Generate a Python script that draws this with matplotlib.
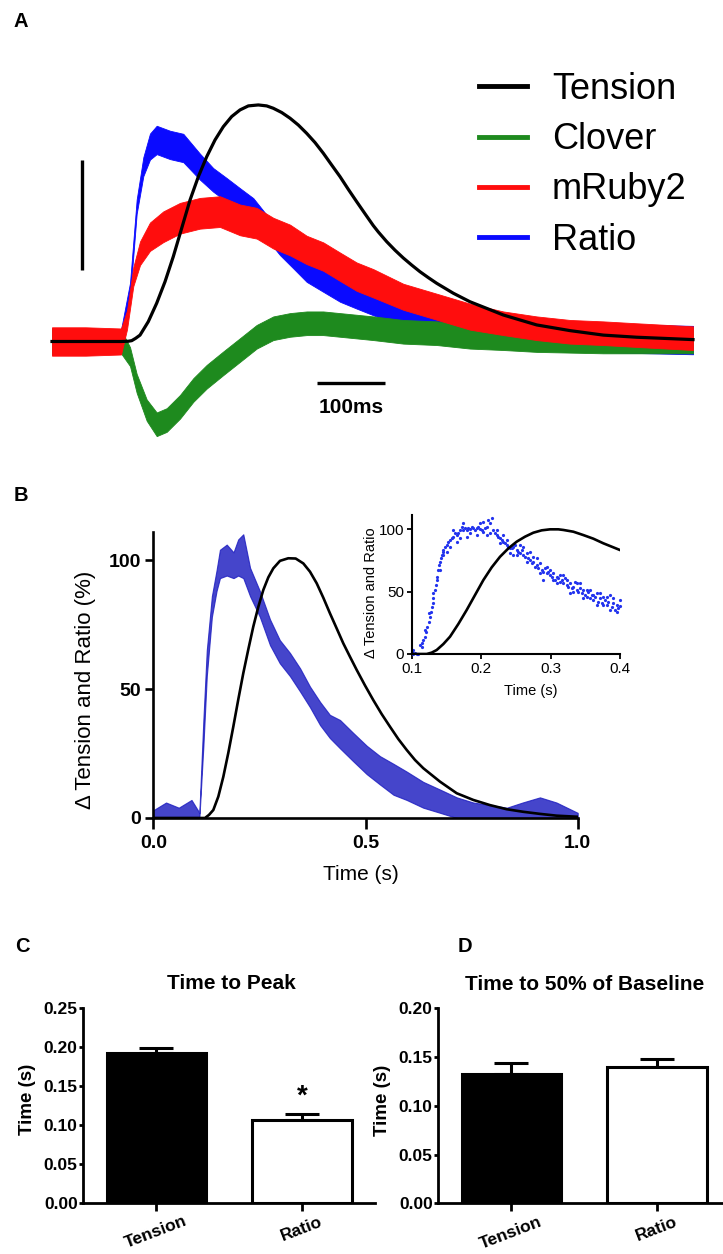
import matplotlib
matplotlib.use('Agg')
import matplotlib.pyplot as plt
from matplotlib.lines import Line2D

plt.rcParams['font.family'] = ['Liberation Sans', 'DejaVu Sans']

# ---------------- Panel A data (time in ms, signal normalised to tension peak = 100) -------------
tension_a_t = [0, 50, 102.7, 113.5, 118.6, 124.5, 131.0, 143.3, 155.8, 168.2, 180.5, 193.0, 205.4,
               217.8, 230.2, 242.6, 254.9, 267.4, 279.8, 292.2, 307.0, 319.4, 329.3, 341.8, 354.2,
               366.6, 379.0, 391.4, 403.7, 416.2, 428.6, 441.0, 453.4, 465.8, 478.1, 485.6, 498.1,
               510.4, 522.8, 535.3, 547.6, 560.0, 572.5, 597.2, 622.0, 646.9, 671.6, 696.4, 721.3,
               770.8, 820.4, 870.1, 953.9]
tension_a_v = [0, 0, 0, 0.1, 0.35, 1.35, 2.7, 8.4, 16.2, 25.3, 35.9, 47.9, 59.8,
               69.7, 78.1, 85.2, 90.8, 95.1, 97.9, 99.6, 100.0, 99.6, 98.6, 96.8, 94.4,
               91.5, 88.0, 84.1, 79.6, 74.6, 69.7, 64.3, 59.1, 54.0, 49.0, 46.3, 42.2,
               38.6, 35.3, 32.3, 29.5, 27.0, 24.6, 20.4, 16.8, 14.0, 11.2, 9.1, 7.0,
               4.6, 2.7, 1.8, 0.8]

ratio_a_t = [0, 50, 102.7, 116.1, 126.0, 135.9, 145.8, 155.8, 175.6, 195.4, 220.2, 240.0, 260.0,
             279.8, 299.6, 319.5, 339.3, 359.1, 379.0, 403.7, 428.6, 453.4, 478.1, 522.8, 572.5,
             622.0, 696.4, 815.5, 953.9]
ratio_a_v = [0, 0, 0, 21.8, 57.0, 73.9, 82.4, 85.2, 83.1, 81.8, 73.9, 68.3, 64.1,
             59.8, 55.6, 48.5, 41.5, 35.9, 30.2, 26.0, 21.8, 18.9, 16.1, 11.2, 7.0,
             4.9, 2.7, 1.5, 0.6]
ratio_a_noise = [5.5, 5.5, 5, 3, 3, 4, 5.5, 6, 6, 6, 5.5, 5, 5,
                 5, 5, 5, 5, 5, 5, 5, 5, 5, 5, 5, 5.5,
                 5.5, 6, 6, 6]

ruby_a_t = [0, 50, 102.7, 111.6, 121.0, 131.0, 145.8, 165.6, 190.5, 220.2, 250.0, 279.8, 304.6,
            329.3, 354.2, 379.0, 403.7, 428.6, 453.4, 478.1, 522.8, 572.5, 622.0, 671.6, 721.3,
            770.8, 820.4, 870.1, 953.9]
ruby_a_v = [0, 0, 0, 9.1, 27.4, 37.3, 44.3, 48.5, 52.1, 54.2, 54.9, 51.4, 50.0,
            45.8, 42.9, 38.7, 35.9, 31.6, 27.4, 24.6, 18.9, 14.7, 10.5, 7.7, 5.6,
            4.1, 3.5, 2.7, 1.4]
ruby_a_noise = [6, 6, 5.5, 4, 4, 5, 6, 6.5, 6.5, 6.5, 6.5, 6.5, 6.5,
                6.5, 6.5, 6, 6, 6, 6, 6, 5.5, 5.5, 5.5, 5, 5,
                5, 5, 5, 5]

clover_a_t = [0, 50, 102.7, 116.1, 126.0, 140.9, 155.8, 170.7, 190.5, 210.3, 230.2, 254.9, 279.8,
              304.6, 329.3, 354.2, 379.0, 403.7, 428.6, 453.4, 478.1, 522.8, 572.5, 622.0, 671.6,
              721.3, 820.4, 953.9]
clover_a_v = [0, 0, 0, -6.4, -17.7, -29.0, -35.0, -33.2, -27.6, -20.5, -14.9, -9.2, -3.6,
              2.0, 5.6, 7.0, 7.7, 7.7, 7.0, 6.3, 5.6, 4.1, 3.5, 2.0, 1.4,
              0.6, 0.0, 0.0]
clover_a_noise = [5.5, 5.5, 5, 4, 4, 4.5, 5, 5, 5, 5, 5, 5, 5,
                  5, 5, 5, 5, 5, 5, 5, 5, 5, 5, 5, 5,
                  5, 5, 5]

legend_labels = ['Tension', 'Clover', 'mRuby2', 'Ratio']
scale_bar_ms = 100

# ---------------- Panel B data (time in s, % change) ----------------
tension_b_t = [0.0, 0.1218, 0.1312, 0.1414, 0.1532, 0.165, 0.1768, 0.1885, 0.2003, 0.212, 0.2239,
               0.2356, 0.2475, 0.2592, 0.271, 0.2828, 0.2985, 0.318, 0.3355, 0.3535, 0.3692,
               0.385, 0.4006, 0.4164, 0.4321, 0.4477, 0.4635, 0.4793, 0.4988, 0.5184, 0.5381,
               0.5577, 0.5774, 0.597, 0.6166, 0.6362, 0.6755, 0.7149, 0.754, 0.7933, 0.8327,
               0.872, 0.911, 0.9505, 0.9976]
tension_b_v = [0, 0, 1.2, 3.1, 8.3, 16.0, 25.3, 35.4, 46.0, 56.1, 65.4,
               74.2, 81.9, 88.4, 93.3, 96.8, 99.7, 100.7, 100.6, 98.7, 95.5,
               91.0, 85.4, 79.3, 73.5, 67.7, 62.5, 57.4, 51.4, 45.7, 40.3,
               35.4, 30.6, 26.4, 22.5, 19.3, 14.1, 9.6, 7.0, 5.0, 3.4,
               2.4, 1.6, 0.9, 0.5]

ratio_b_t = [0.0, 0.03, 0.06, 0.09, 0.105, 0.1085, 0.118, 0.126, 0.138, 0.149, 0.157, 0.173,
             0.189, 0.200, 0.212, 0.228, 0.251, 0.275, 0.298, 0.322, 0.346, 0.369, 0.393,
             0.416, 0.440, 0.471, 0.503, 0.534, 0.566, 0.597, 0.636, 0.676, 0.715, 0.754,
             0.833, 0.870, 0.911, 0.950, 1.0]
ratio_b_lo = [0, 0, 0, 0, 0, 0, 28, 55, 78, 88, 93, 94, 93, 94, 93, 86, 78, 67, 60, 55, 49, 43,
              36, 31, 27, 22, 17, 13, 9, 7, 4, 2, 0, 0, 0, 0, 0, 0, 0]
ratio_b_hi = [3, 6, 4, 7, 3, 2, 38, 65, 86, 96, 104, 106, 103, 108, 110, 97, 88, 77, 69, 64, 58,
              51, 45, 40, 38, 33, 28, 24, 21, 18, 14, 11, 8, 6, 4, 6, 8, 6, 2]

# Inset (time in s)
tension_in_t = [0.1, 0.1216, 0.1288, 0.136, 0.1456, 0.1552, 0.1672, 0.1792, 0.1912, 0.2032,
                0.2152, 0.2272, 0.2392, 0.2512, 0.2632, 0.2752, 0.2872, 0.2992, 0.3112, 0.3184,
                0.3328, 0.3472, 0.3616, 0.376, 0.388, 0.4]
tension_in_v = [0, 0, 1.1, 3.2, 8.0, 13.9, 24.1, 35.3, 47.3, 59.3,
                69.5, 78.0, 84.7, 90.1, 94.1, 97.3, 99.2, 100.0, 100.0, 99.5,
                98.1, 95.4, 92.5, 88.8, 86.1, 83.4]

ratio_in_t = [0.100, 0.1014, 0.1024, 0.1048, 0.1072, 0.1096, 0.112, 0.1144, 0.1168, 0.1192, 0.1206,
              0.1226, 0.1245, 0.1264, 0.1278, 0.1288, 0.1302, 0.1312, 0.1336, 0.135, 0.136, 0.137,
              0.1384, 0.1398, 0.1408, 0.1418, 0.1432, 0.1446, 0.1456, 0.148, 0.1504, 0.1528, 0.1552,
              0.1576, 0.16, 0.1624, 0.1648, 0.1672, 0.1696, 0.172, 0.1744, 0.1768, 0.1792, 0.1816,
              0.184, 0.1864, 0.1888, 0.1912, 0.1936, 0.196, 0.1984, 0.2008, 0.2032, 0.2056, 0.208,
              0.2104, 0.2128, 0.2152, 0.2176, 0.22, 0.2224, 0.2248, 0.2272, 0.2296, 0.232, 0.2344,
              0.2368, 0.2392, 0.2416, 0.244, 0.2464, 0.2488, 0.2512, 0.2536, 0.256, 0.2584, 0.2608,
              0.2632, 0.2656, 0.268, 0.2704, 0.2728, 0.2752, 0.2776, 0.28, 0.2824, 0.2848, 0.2872,
              0.2896, 0.292, 0.2944, 0.2968, 0.2992, 0.3016, 0.304, 0.3064, 0.3088, 0.3112, 0.3136,
              0.316, 0.3184, 0.3208, 0.3232, 0.3256, 0.328, 0.3304, 0.3328, 0.3352, 0.3376, 0.34,
              0.3424, 0.3448, 0.3472, 0.3496, 0.352, 0.3544, 0.3568, 0.3592, 0.3616, 0.364, 0.3664,
              0.3688, 0.3712, 0.3736, 0.376, 0.3784, 0.3808, 0.3832, 0.3856, 0.388, 0.3904, 0.3928,
              0.3952, 0.3976, 0.400,
              0.1552, 0.1648, 0.1792, 0.1936, 0.2128, 0.2272, 0.2416, 0.2608, 0.28, 0.2992, 0.3184,
              0.3376, 0.3568, 0.376, 0.3952, 0.400, 0.1744, 0.2032, 0.232, 0.2512, 0.2704, 0.2896,
              0.3088, 0.328, 0.3472, 0.3664, 0.3856, 0.1408, 0.1456, 0.1504, 0.1312, 0.1254, 0.1197,
              0.1144, 0.16, 0.1696, 0.184, 0.1984, 0.208, 0.2224, 0.2368, 0.2464, 0.256, 0.2656,
              0.2752, 0.2848, 0.2944, 0.304, 0.3136, 0.3232, 0.3328, 0.3424, 0.352, 0.3616, 0.3712,
              0.3808, 0.3904]
ratio_in_v = [1.9, 0.0, 3.2, 0.5, 0.0, 0.0, 7.2, 8.6, 11.2, 13.9, 17.9,
              21.9, 25.9, 29.9, 33.9, 38.0, 40.6, 48.7, 51.3, 55.3, 59.3, 62.0,
              67.4, 71.4, 74.0, 76.7, 79.4, 82.1, 83.4, 86.1, 87.4, 90.1, 91.4,
              92.8, 94.1, 96.8, 95.4, 96.8, 99.4, 102.1, 99.4, 100.8, 99.4, 100.8,
              100.0, 102.1, 100.8, 99.4, 100.8, 102.1, 100.0, 99.4, 98.1, 100.8, 102.1,
              107.5, 104.8, 108.8, 99.4, 96.8, 95.4, 94.1, 92.8, 91.4, 90.1, 88.7,
              87.4, 86.1, 84.7, 84.7, 86.1, 87.4, 83.4, 82.1, 80.7, 83.4, 79.4,
              78.1, 80.7, 76.7, 75.4, 72.7, 74.0, 70.0, 71.4, 68.7, 72.7, 67.4,
              66.0, 68.7, 64.7, 66.0, 63.4, 62.0, 64.7, 59.3, 62.0, 60.7, 58.0,
              59.3, 56.7, 60.7, 55.3, 54.0, 56.7, 52.7, 54.0, 58.0, 51.3, 50.0,
              52.7, 48.7, 51.3, 47.3, 46.0, 50.0, 44.6, 47.3, 43.3, 46.0, 48.7,
              42.0, 44.6, 40.6, 46.0, 43.3, 39.3, 42.0, 47.3, 38.0, 40.6, 35.3,
              39.3, 36.6, 38.5,
              86.1, 90.1, 94.1, 95.4, 96.8, 88.7, 80.7, 86.1, 76.7, 67.4, 63.4,
              56.7, 51.3, 39.3, 33.9, 43.3, 104.8, 106.1, 95.4, 79.4, 82.1, 59.3,
              56.7, 48.7, 44.6, 39.3, 35.3, 67.4, 79.4, 82.1, 44.6, 32.6, 19.2,
              5.9, 99.4, 92.8, 96.8, 104.8, 95.4, 99.4, 91.4, 79.4, 87.4, 74.0,
              78.1, 64.7, 70.0, 59.3, 63.4, 59.3, 50.0, 56.7, 51.3, 47.3, 48.7,
              46.0, 44.6]

# ---------------- Panels C and D data ----------------
groups = ['Tension', 'Ratio']
peak_mean = [0.192, 0.106]
peak_sem = [0.0065, 0.008]
half_mean = [0.133, 0.140]
half_sem = [0.0105, 0.0077]

# ---------------- Figure ----------------
W, H = 723, 1254
fig = plt.figure(figsize=(W / 100, H / 100), dpi=100)


def px_axes(left, top, right, bottom):
    return fig.add_axes([left / W, 1 - bottom / H, (right - left) / W, (bottom - top) / H])


BLUE = '#0a0aff'
RED = '#ff0d0d'
GREEN = '#1e8a1e'
BBLUE = '#1c1cc0'

# ----- Panel A -----
axA = px_axes(40, 60, 700, 460)
axA.set_xlim(-17.86, 964.3)
axA.set_ylim(-50.1, 119.0)
axA.axis('off')


def band(ax, t, v, hw, color, z):
    lo = [a - b for a, b in zip(v, hw)]
    hi = [a + b for a, b in zip(v, hw)]
    ax.fill_between(t, lo, hi, color=color, lw=0.6, zorder=z)


band(axA, ratio_a_t, ratio_a_v, ratio_a_noise, BLUE, 1)
band(axA, clover_a_t, clover_a_v, clover_a_noise, GREEN, 2)
band(axA, ruby_a_t, ruby_a_v, ruby_a_noise, RED, 3)
axA.plot(tension_a_t, tension_a_v, color='black', lw=2.3, zorder=4, solid_joinstyle='round')

# scale bars
axA.plot([395, 395 + scale_bar_ms], [-17.7, -17.7], color='black', lw=2.4, solid_capstyle='butt')
axA.text(395 + scale_bar_ms / 2, -27.7, '100ms', ha='center', va='center', fontsize=15,
         fontweight='bold')
axA.plot([44.2, 44.2], [30.2, 76.7], color='black', lw=2.4, solid_capstyle='butt')

handles = [Line2D([], [], color=c, lw=3.5) for c in ['black', GREEN, RED, BLUE]]
axA.legend(handles, legend_labels, loc='upper left', bbox_to_anchor=(479 / W, 1 - 72 / H),
           bbox_transform=fig.transFigure, frameon=False, fontsize=26, handlelength=1.32,
           handletextpad=0.7, labelspacing=0.42, borderpad=0, borderaxespad=0)

# ----- Panel B -----
axB = px_axes(153.3, 531.7, 577.7, 818)
axB.fill_between(ratio_b_t, ratio_b_lo, ratio_b_hi, color=BBLUE, lw=0.8, alpha=0.82, zorder=2)
axB.plot(tension_b_t, tension_b_v, color='black', lw=1.9, zorder=3, solid_joinstyle='round')
axB.set_xlim(0, 1.0)
axB.set_ylim(0, 111)
for s in ['top', 'right']:
    axB.spines[s].set_visible(False)
for s in ['left', 'bottom']:
    axB.spines[s].set_linewidth(1.9)
axB.set_xticks([0, 0.5, 1.0])
axB.set_xticklabels(['0.0', '0.5', '1.0'], fontweight='bold', fontsize=14)
axB.set_yticks([0, 50, 100])
axB.set_yticklabels(['0', '50', '100'], fontweight='bold', fontsize=14)
axB.tick_params(axis='x', length=8, width=1.9, pad=4)
axB.tick_params(axis='y', length=6, width=1.9, pad=3)
axB.set_xlabel('Time (s)', fontsize=15)
axB.xaxis.set_label_coords(0.489, -0.165)
axB.set_ylabel('Δ Tension and Ratio (%)', fontsize=16)
axB.yaxis.set_label_coords(-0.135, 0.447)

# inset
axI = px_axes(411.7, 515, 620, 654)
axI.plot(ratio_in_t, ratio_in_v, 'o', ms=2.3, mew=0, color='#2233ee', zorder=2, clip_on=False)
axI.plot(tension_in_t, tension_in_v, color='black', lw=1.9, zorder=3, solid_joinstyle='round')
axI.set_xlim(0.1, 0.4)
axI.set_ylim(0, 111.5)
for s in ['top', 'right']:
    axI.spines[s].set_visible(False)
for s in ['left', 'bottom']:
    axI.spines[s].set_linewidth(1.5)
axI.set_xticks([0.1, 0.2, 0.3, 0.4])
axI.set_xticklabels(['0.1', '0.2', '0.3', '0.4'], fontsize=11)
axI.set_yticks([0, 50, 100])
axI.set_yticklabels(['0', '50', '100'], fontsize=11)
axI.tick_params(length=3.5, width=1.3, pad=2)
axI.set_xlabel('Time (s)', fontsize=10.5)
axI.xaxis.set_label_coords(0.573, -0.215)
axI.set_ylabel('Δ Tension and Ratio', fontsize=10.5)
axI.yaxis.set_label_coords(-0.16, 0.44)
axI.patch.set_alpha(0)


# ----- Panels C & D -----
def bar_panel(ax, means, sems, ymax, yticks, title, title_x, title_y, ylab_x):
    ax.bar([0, 1], means, width=0.68, color=['black', 'white'], edgecolor='black', lw=2.2,
           zorder=2)
    ax.errorbar([0, 1], means, yerr=[[0, 0], sems], fmt='none', ecolor='black', elinewidth=2.2,
                capsize=12, capthick=2.2, zorder=1)
    ax.set_ylim(0, ymax)
    for s in ['top', 'right']:
        ax.spines[s].set_visible(False)
    for s in ['left', 'bottom']:
        ax.spines[s].set_linewidth(2)
    ax.set_yticks(yticks)
    ax.set_yticklabels(['%.2f' % y for y in yticks], fontweight='bold', fontsize=12.5)
    ax.set_xticks([0, 1])
    ax.set_xticklabels(groups, fontweight='bold', fontsize=12.5, rotation=21)
    ax.tick_params(axis='y', length=3, width=2, pad=1)
    ax.tick_params(axis='x', length=6, width=2, pad=2)
    ax.set_title(title, fontweight='bold', fontsize=15, x=title_x, y=title_y, pad=0)
    ax.set_ylabel('Time (s)', fontweight='bold', fontsize=13.5)
    ax.yaxis.set_label_coords(ylab_x, 0.53)


axC = px_axes(83.3, 1008.3, 374.9, 1202.7)
axC.set_xlim(-0.5, 1.5)
bar_panel(axC, peak_mean, peak_sem, 0.25, [0, 0.05, 0.10, 0.15, 0.20, 0.25], 'Time to Peak',
          0.509, 1.10, -0.162)
axC.text(1, 0.136, '*', ha='center', va='center', fontsize=20, fontweight='bold')

axD = px_axes(438.3, 1008.3, 723, 1203.3)
axD.set_xlim(-0.5, 1.453)
bar_panel(axD, half_mean, half_sem, 0.20, [0, 0.05, 0.10, 0.15, 0.20],
          'Time to 50% of Baseline', 0.515, 1.094, -0.166)

# panel letters
for letter, x, y in [('A', 14, 12), ('B', 14, 486), ('C', 15, 937), ('D', 458, 937)]:
    fig.text(x / W, 1 - y / H, letter, fontsize=14.5, fontweight='bold', ha='left', va='top')

fig.savefig('out.png', dpi=100)
